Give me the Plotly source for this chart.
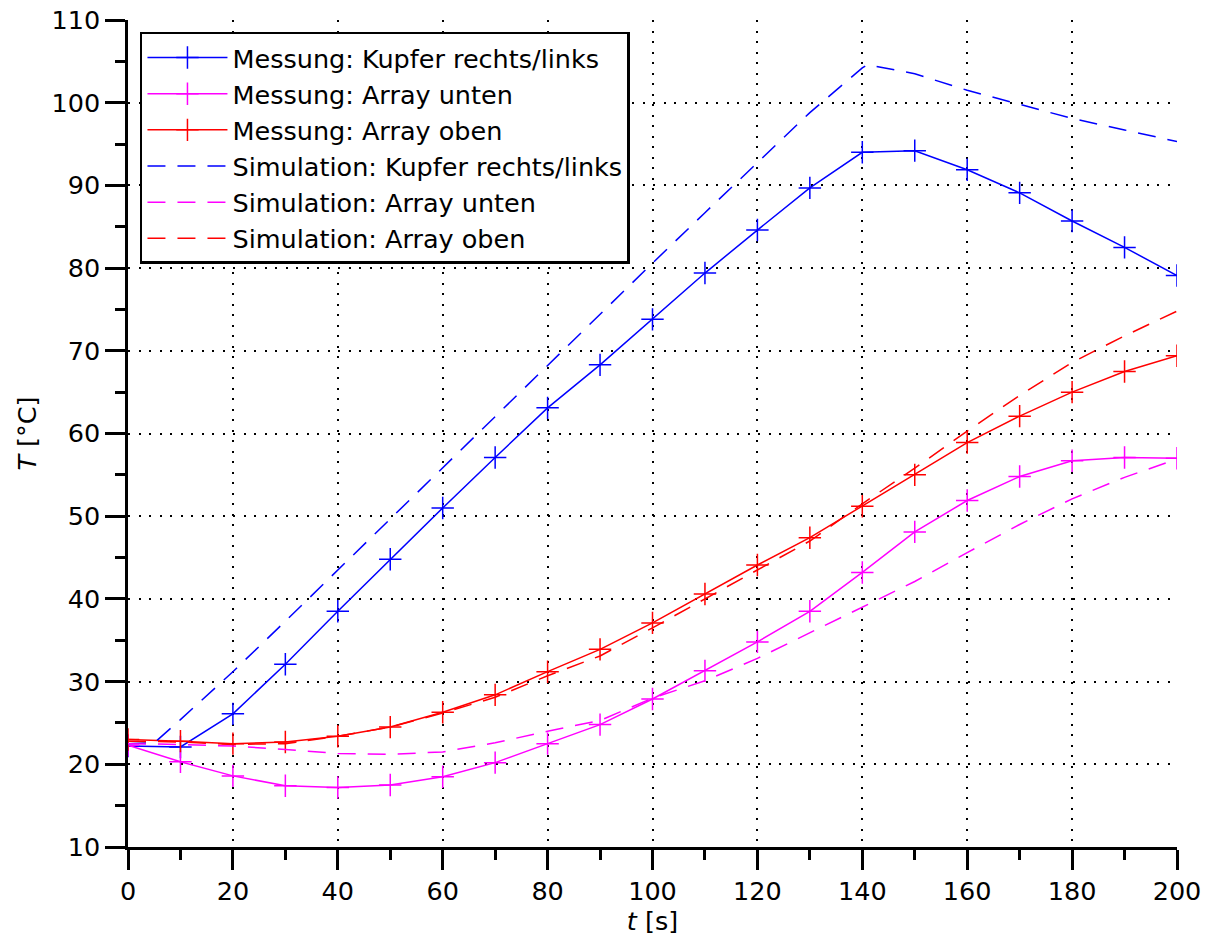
import plotly.graph_objects as go

# Measurement time points (s)
t_mess = [0, 10, 20, 30, 40, 50, 60, 70, 80, 90, 100, 110, 120, 130, 140, 150, 160, 170, 180, 190, 200]

mess_kupfer = [22.2, 22.1, 26.1, 32.1, 38.5, 44.8, 51.0, 57.1, 63.1, 68.3, 73.8, 79.4, 84.6, 89.7, 94.0, 94.2, 91.9, 89.1, 85.7, 82.5, 79.1]
mess_unten = [22.3, 20.3, 18.6, 17.4, 17.2, 17.5, 18.5, 20.2, 22.5, 24.8, 27.9, 31.3, 34.8, 38.5, 43.2, 48.1, 51.9, 54.8, 56.7, 57.1, 57.0]
mess_oben = [23.0, 22.8, 22.5, 22.7, 23.4, 24.5, 26.3, 28.4, 31.2, 33.9, 37.1, 40.6, 44.1, 47.4, 51.2, 55.0, 58.9, 62.1, 65.0, 67.5, 69.4]

# Simulation time points (s)
t_sim_kupfer = [0, 5, 10, 20, 30, 40, 50, 60, 70, 80, 90, 100, 110, 120, 130, 140, 141, 150, 160, 170, 180, 190, 200]
sim_kupfer = [22.5, 22.6, 25.4, 31.2, 37.3, 43.5, 49.7, 55.9, 62.0, 68.2, 74.4, 80.6, 86.7, 92.8, 98.8, 104.2, 104.6, 103.5, 101.5, 99.8, 98.1, 96.7, 95.3]

t_sim = [0, 10, 20, 30, 40, 50, 60, 70, 80, 90, 100, 110, 120, 130, 140, 150, 160, 170, 180, 190, 200]
sim_unten = [22.5, 22.4, 22.2, 21.8, 21.3, 21.2, 21.5, 22.6, 24.0, 25.3, 28.0, 30.1, 32.8, 35.9, 39.0, 42.1, 45.6, 49.0, 52.1, 54.7, 56.9]
sim_oben = [22.8, 22.7, 22.4, 22.5, 23.4, 24.5, 26.2, 28.1, 30.7, 33.1, 36.5, 40.0, 43.4, 47.0, 51.5, 55.8, 60.3, 64.6, 68.6, 71.8, 74.8]

BLUE = "#0000ff"
MAGENTA = "#ff00ff"
RED = "#ff0000"
FONT = "DejaVu Sans, Liberation Sans, sans-serif"
FS = 25.5

fig = go.Figure()

def mess_trace(y, color, name):
    return go.Scatter(
        x=t_mess, y=y, name=name, mode="lines+markers",
        line=dict(color=color, width=1.5),
        marker=dict(symbol="cross-thin", size=16, color=color,
                    line=dict(color=color, width=1.5)),
    )

def sim_trace(x, y, color, name):
    return go.Scatter(
        x=x, y=y, name=name, mode="lines",
        line=dict(color=color, width=1.5, dash="18px,12px"),
    )

fig.add_trace(mess_trace(mess_kupfer, BLUE, "Messung: Kupfer rechts/links"))
fig.add_trace(mess_trace(mess_unten, MAGENTA, "Messung: Array unten"))
fig.add_trace(mess_trace(mess_oben, RED, "Messung: Array oben"))
fig.add_trace(sim_trace(t_sim_kupfer, sim_kupfer, BLUE, "Simulation: Kupfer rechts/links"))
fig.add_trace(sim_trace(t_sim, sim_unten, MAGENTA, "Simulation: Array unten"))
fig.add_trace(sim_trace(t_sim, sim_oben, RED, "Simulation: Array oben"))

axis_common = dict(
    showline=True, linecolor="black", linewidth=2.5,
    ticks="outside", ticklen=20, tickwidth=2.5, tickcolor="black",
    showgrid=True, gridcolor="black", gridwidth=1.5, griddash="2px,8.5px",
    zeroline=False, mirror=False, automargin=False,
    tickfont=dict(family=FONT, size=FS, color="black"),
)

fig.update_xaxes(
    range=[0, 200], tick0=0, dtick=20,
    minor=dict(dtick=10, ticks="outside", ticklen=10, tickwidth=2.5, tickcolor="black", showgrid=False),
    title=dict(text="<i>t</i> [s]", font=dict(family=FONT, size=FS, color="black"), standoff=2),
    **axis_common,
)
fig.update_yaxes(
    range=[10, 110], tick0=10, dtick=10,
    minor=dict(dtick=5, ticks="outside", ticklen=10, tickwidth=2.5, tickcolor="black", showgrid=False),
    title=dict(text="<i>T</i> [°C]", font=dict(family=FONT, size=FS, color="black"), standoff=8),
    **axis_common,
)

fig.update_layout(
    width=1212, height=939,
    margin=dict(l=128, r=35, t=20, b=92, autoexpand=False),
    paper_bgcolor="white", plot_bgcolor="white",
    font=dict(family=FONT, size=FS, color="black"),
    showlegend=True,
    legend=dict(
        x=0.0114, y=0.9855, xanchor="left", yanchor="top",
        bgcolor="white", bordercolor="black", borderwidth=2.5,
        font=dict(family=FONT, size=FS, color="black"),
        itemwidth=80,
        tracegroupgap=0,
    ),
)

fig.write_html("out.html")
